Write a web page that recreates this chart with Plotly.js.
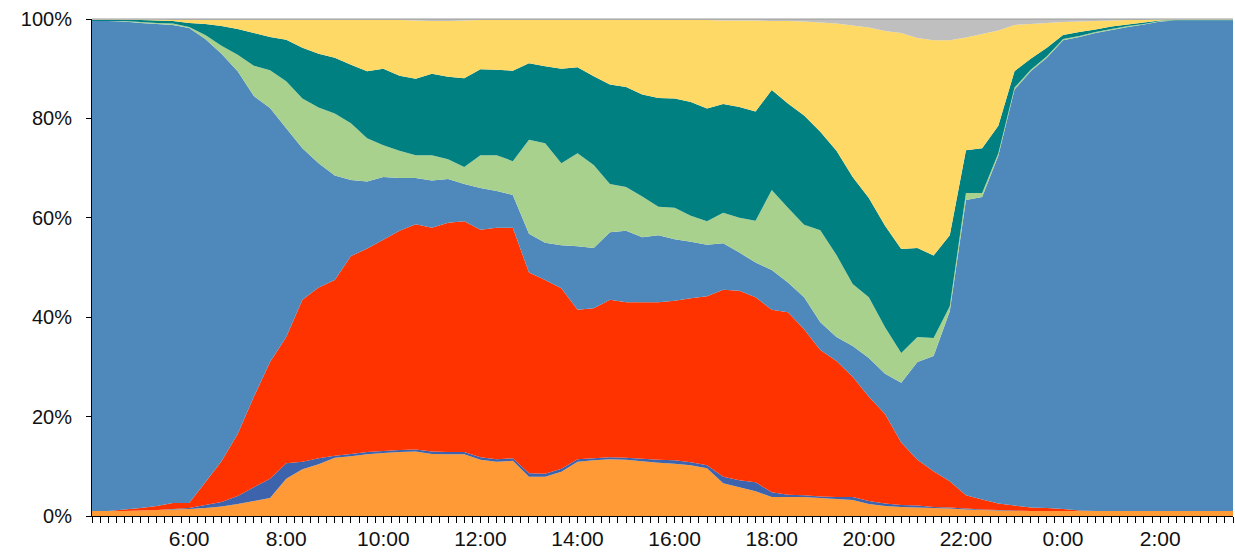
<!DOCTYPE html>
<html>
<head>
<meta charset="utf-8">
<script src="https://cdn.plot.ly/plotly-3.0.1.min.js"></script>
<style>html,body{margin:0;padding:0;background:#fff;}#chart{width:1235px;height:553px;}</style>
</head>
<body>
<div id="chart"></div>
<script>
// Time of day, 20-minute steps from 4:00 to 3:30 next day
const times = ["4:00","4:20","4:40","5:00","5:20","5:40","6:00","6:20","6:40","7:00","7:20","7:40",
"8:00","8:20","8:40","9:00","9:20","9:40","10:00","10:20","10:40","11:00","11:20","11:40",
"12:00","12:20","12:40","13:00","13:20","13:40","14:00","14:20","14:40","15:00","15:20","15:40",
"16:00","16:20","16:40","17:00","17:20","17:40","18:00","18:20","18:40","19:00","19:20","19:40",
"20:00","20:20","20:40","21:00","21:20","21:40","22:00","22:20","22:40","23:00","23:20","23:40",
"0:00","0:20","0:40","1:00","1:20","1:40","2:00","2:20","2:40","3:00","3:20","3:30"];

const tickLabels = ["6:00","8:00","10:00","12:00","14:00","16:00","18:00","20:00","22:00","0:00","2:00"];

// Share of each activity (%), bottom to top
const orange = [1.0,1.0,1.0,1.1,1.2,1.3,1.4,1.6,1.9,2.4,3.0,3.6,
7.5,9.4,10.4,11.7,12.0,12.4,12.7,12.9,13.0,12.5,12.4,12.4,
11.3,10.9,11.1,7.9,7.9,8.9,10.9,11.2,11.4,11.3,11.0,10.7,
10.5,10.2,9.6,6.6,5.8,5.0,3.8,3.8,3.8,3.6,3.4,3.2,
2.4,2.0,1.8,1.7,1.6,1.5,1.3,1.2,1.1,1.0,1.0,1.0,
1.0,1.0,1.0,1.0,1.0,1.0,1.0,1.0,1.0,1.0,1.0,1.0];

const darkBlue = [0,0,0,0,0,0.1,0.2,0.6,0.9,1.6,2.8,3.9,
3.1,1.5,1.2,0.4,0.5,0.5,0.4,0.4,0.4,0.5,0.5,0.5,
0.5,0.5,0.5,0.7,0.6,0.6,0.5,0.4,0.4,0.4,0.5,0.6,
0.7,0.6,0.6,1.3,1.4,1.8,1.0,0.5,0.4,0.3,0.4,0.6,
0.6,0.5,0.4,0.4,0.2,0.2,0.2,0.1,0.1,0.1,0,0,
0,0,0,0,0,0,0,0,0,0,0,0];

const red = [0,0,0.3,0.5,0.8,1.2,1.0,4.6,8.2,12.5,18.2,23.5,
25.4,32.6,34.4,35.4,39.8,40.9,42.5,44.1,45.3,45.0,46.1,46.4,
45.8,46.6,46.4,40.4,39.0,36.3,30.1,30.2,31.7,31.3,31.5,31.7,
32.1,33.0,34.0,37.6,38.1,37.2,36.7,36.7,33.4,29.5,27.4,24.2,
21.0,18.0,12.6,9.2,7.2,5.3,2.7,2.0,1.3,1.0,0.7,0.6,
0.4,0.1,0,0,0,0,0,0,0,0,0,0];

const steelBlue = [98.6,98.6,98.2,97.6,97.0,96.2,95.6,89.2,82.0,73.0,60.5,51.1,
42.0,30.5,25.0,21.0,15.3,13.5,12.6,10.6,9.3,9.5,8.8,7.5,
8.4,7.4,6.6,7.8,7.5,8.7,12.8,12.1,13.6,14.4,13.1,13.5,
12.4,11.4,10.4,9.4,7.7,7.0,8.0,6.0,6.4,5.6,4.8,6.2,
7.8,8.1,12.0,19.7,23.2,34.2,59.4,60.9,70.0,83.7,87.8,90.6,
94.3,95.3,96.2,96.8,97.4,97.9,98.5,98.7,98.7,98.7,98.7,98.7];

const lightGreen = [0,0,0.1,0.2,0.2,0.3,0.2,0.8,1.6,3.3,6.1,7.6,
9.5,10.0,11.2,12.5,11.4,8.7,6.4,5.5,4.6,5.1,4.0,3.4,
6.6,7.2,6.8,18.9,20.0,16.5,18.7,16.7,9.7,8.8,8.2,5.7,
6.3,5.2,4.7,6.1,7.0,8.4,16.1,15.0,14.6,18.5,16.5,12.5,
12.2,9.4,6.0,5.0,3.6,1.0,1.4,0.8,0.5,0.4,0.3,0.3,
0.3,0.2,0.2,0.2,0.2,0.1,0.1,0,0,0,0,0];

const teal = [0.2,0.2,0.2,0.4,0.5,0.5,0.8,2.2,4.0,5.2,6.6,6.7,
8.3,10.2,10.8,11.2,11.8,13.5,15.4,15.1,15.4,16.4,16.6,17.9,
17.3,17.2,18.2,15.4,15.5,19.0,17.3,17.9,20.0,20.1,20.5,21.9,
22.0,22.9,22.7,21.9,22.3,22.0,20.1,21.0,22.0,19.8,21.0,21.5,
20.0,20.4,20.9,17.9,16.6,14.3,8.6,9.0,5.5,3.3,2.2,1.7,
0.8,0.8,0.5,0.5,0.3,0.3,0.1,0.1,0.1,0.1,0.1,0.1];

const yellow = [0.1,0.1,0.1,0.1,0.2,0.2,0.6,0.8,1.2,1.8,2.6,3.4,
4.0,5.6,6.8,7.6,9.0,10.3,9.8,11.2,11.7,10.6,11.2,11.6,
9.9,10.0,10.2,8.7,9.3,9.8,9.5,11.3,13.0,13.5,15.0,15.7,
15.8,16.5,17.8,16.8,17.4,18.3,13.9,16.6,18.9,22.0,25.6,30.5,
34.3,39.2,43.5,42.3,43.3,39.2,22.7,23.0,19.2,9.3,7.0,5.0,
2.6,2.1,1.7,1.2,0.9,0.5,0.2,0.1,0.1,0.1,0.1,0.1];

const gray = [0.1,0.1,0.1,0.1,0.1,0.2,0.2,0.2,0.2,0.2,0.2,0.2,
0.2,0.2,0.2,0.2,0.2,0.2,0.2,0.2,0.3,0.4,0.4,0.3,
0.2,0.2,0.2,0.2,0.2,0.2,0.2,0.2,0.2,0.2,0.2,0.2,
0.2,0.2,0.2,0.3,0.3,0.3,0.4,0.4,0.5,0.7,0.9,1.3,
1.7,2.4,2.8,3.8,4.3,4.3,3.7,3.0,2.3,1.2,1.0,0.8,
0.6,0.5,0.4,0.3,0.2,0.2,0.1,0.1,0.1,0.1,0.1,0.1];

function toHours(t) {
  const p = t.split(":");
  let h = parseInt(p[0], 10) + parseInt(p[1], 10) / 60;
  if (h < 4) h += 24;
  return h;
}
const x = times.map(toHours);
const tickVals = tickLabels.map(toHours);

const series = [
  {name: "orange", y: orange, color: "#FF9A36"},
  {name: "darkBlue", y: darkBlue, color: "#3C63AC"},
  {name: "red", y: red, color: "#FF3300"},
  {name: "steelBlue", y: steelBlue, color: "#4F89BB"},
  {name: "lightGreen", y: lightGreen, color: "#A9D18E"},
  {name: "teal", y: teal, color: "#008080"},
  {name: "yellow", y: yellow, color: "#FFD966"},
  {name: "gray", y: gray, color: "#BFBFBF"}
];

const traces = series.map(s => ({
  type: "scatter",
  mode: "none",
  x: x,
  y: s.y,
  name: s.name,
  stackgroup: "one",
  groupnorm: "percent",
  fillcolor: s.color,
  hoverinfo: "skip"
}));

const layout = {
  width: 1235,
  height: 553,
  margin: {l: 92, r: 2, t: 19, b: 37},
  paper_bgcolor: "#ffffff",
  plot_bgcolor: "#ffffff",
  showlegend: false,
  font: {family: "Liberation Sans, Arial, sans-serif", color: "#111111"},
  xaxis: {
    type: "linear",
    range: [4, 27.5],
    tickvals: tickVals,
    ticktext: tickLabels,
    ticks: "outside",
    ticklen: 6,
    tickwidth: 1,
    tickcolor: "#000000",
    showline: true,
    linecolor: "#000000",
    linewidth: 1,
    showgrid: false,
    zeroline: false,
    ticklabelstandoff: -2,
    tickfont: {size: 21, color: "#111111"},
    minor: {tick0: 4, dtick: 1/6, ticks: "outside", ticklen: 6, tickwidth: 1, tickcolor: "#000000", showgrid: false}
  },
  yaxis: {
    range: [0, 100],
    tickvals: [0, 20, 40, 60, 80, 100],
    ticktext: ["0%", "20%", "40%", "60%", "80%", "100%"],
    ticks: "outside",
    ticklen: 5,
    tickwidth: 1,
    tickcolor: "#000000",
    showline: true,
    linecolor: "#000000",
    linewidth: 1,
    showgrid: false,
    zeroline: false,
    ticklabelstandoff: 10,
    tickfont: {size: 20, color: "#111111"}
  },
  shapes: [{type: "line", xref: "paper", yref: "paper", x0: 0, x1: 1, y0: 1, y1: 1, line: {color: "#9A9A9A", width: 1}}]
};

Plotly.newPlot("chart", traces, layout, {staticPlot: true, displayModeBar: false});
</script>
</body>
</html>
